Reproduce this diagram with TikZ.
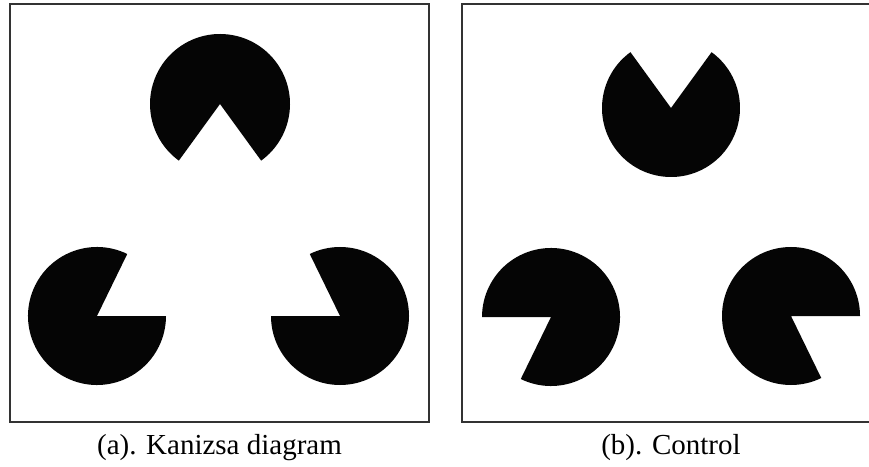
\documentclass[tikz,border=0pt]{standalone}
\usepackage{fontspec}
\setmainfont{Liberation Serif}
\usetikzlibrary{positioning}

\begin{document}
\begin{tikzpicture}[x=1pt, y=1pt,
  panel/.style={draw=black!80, line width=1.3pt},
  pac/.style={fill=black!98},
  captxt/.style={font=\fontsize{29}{34}\selectfont, anchor=base, inner sep=0pt},
]
\useasboundingbox (0,0) rectangle (869,466);

% frames
\draw[panel] (10,44) rectangle (429,462);
\draw[panel] (869,462) -- (462,462) -- (462,44) -- (869,44);

% pac-man centres
\coordinate (kt) at (220,362);
\coordinate (kl) at (97,150);
\coordinate (kr) at (340,150);
\coordinate (ct) at (671,358);
\coordinate (cl) at (551,149);
\coordinate (cr) at (791,150);

% (a) mouths point inwards
\fill[pac] (kt) -- ++(-54:70) arc[start angle=-54, end angle=234, radius=70] -- cycle;
\fill[pac] (kl) -- ++(64:69) arc[start angle=64, end angle=360, radius=69] -- cycle;
\fill[pac] (kr) -- ++(180:69) arc[start angle=180, end angle=476, radius=69] -- cycle;

% (b) mouths point outwards
\fill[pac] (ct) -- ++(126:69) arc[start angle=126, end angle=414, radius=69] -- cycle;
\fill[pac] (cl) -- ++(244:69) arc[start angle=244, end angle=540, radius=69] -- cycle;
\fill[pac] (cr) -- ++(0:69) arc[start angle=0, end angle=296, radius=69] -- cycle;

\node[captxt] (capa) at (219.5,12) {(a). Kanizsa diagram};
\node[captxt] (capb) at (671,12) {(b). Control};
\end{tikzpicture}
\end{document}
